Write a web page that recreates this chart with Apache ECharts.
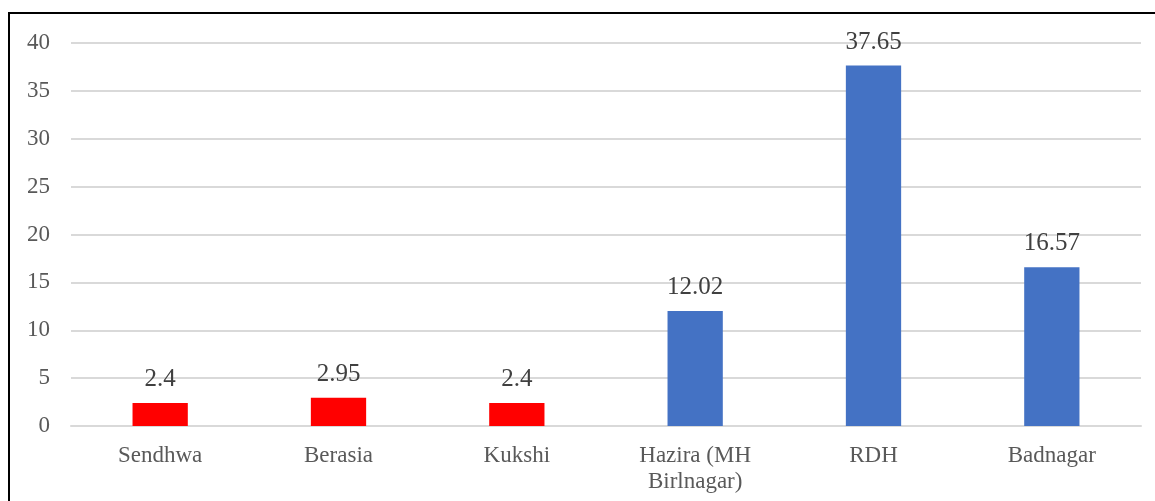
<!DOCTYPE html>
<html>
<head>
<meta charset="utf-8">
<script src="https://cdn.jsdelivr.net/npm/echarts@6/dist/echarts.min.js"></script>
<style>
  html, body { margin: 0; padding: 0; background: #fff; }
  #main { width: 1155px; height: 501px; }
  #frame { position: absolute; left: 8px; top: 12px; width: 1200px; height: 600px;
           border-left: 2px solid #000; border-top: 2px solid #000; pointer-events: none; }
</style>
</head>
<body>
<div id="main"></div>
<div id="frame"></div>
<script>
var categories = ['Sendhwa', 'Berasia', 'Kukshi', 'Hazira (MH\nBirlnagar)', 'RDH', 'Badnagar'];
var values = [2.4, 2.95, 2.4, 12.02, 37.65, 16.57];
var barColors = ['#FF0000', '#FF0000', '#FF0000', '#4472C4', '#4472C4', '#4472C4'];
var yTicks = [0, 5, 10, 15, 20, 25, 30, 35, 40];

var font = '"Liberation Serif", "Times New Roman", serif';

var chart = echarts.init(document.getElementById('main'));
chart.setOption({
  animation: false,
  grid: { left: 71, right: 14, top: 43, bottom: 75, containLabel: false },
  xAxis: {
    type: 'category',
    data: categories,
    axisLine: { show: true, lineStyle: { color: '#d9d9d9', width: 2 } },
    axisTick: { show: false },
    axisLabel: { color: '#595959', fontFamily: font, fontSize: 23, margin: 17, lineHeight: 26, interval: 0 }
  },
  yAxis: {
    type: 'value',
    min: yTicks[0],
    max: yTicks[yTicks.length - 1],
    interval: 5,
    axisLine: { show: false },
    axisTick: { show: false },
    splitLine: { lineStyle: { color: '#d9d9d9', width: 2 } },
    axisLabel: { color: '#595959', fontFamily: font, fontSize: 23, margin: 21 }
  },
  series: [{
    type: 'bar',
    barWidth: '31%',
    data: values.map(function (v, i) {
      return { value: v, itemStyle: { color: barColors[i] } };
    }),
    label: {
      show: true,
      position: 'top',
      distance: 11,
      color: '#404040',
      fontFamily: font,
      fontSize: 25
    }
  }]
});
</script>
</body>
</html>
